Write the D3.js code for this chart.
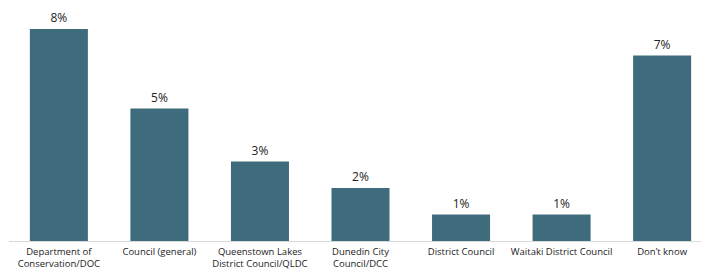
<!doctype html>
<html>
  <head>
    <meta charset="UTF-8">
    <title>Council mentions</title>
    <style>
      body { margin: 0; background: #fff; }
      .bar { fill: #3e6c7c; }
      .value { font-family: "Open Sans", sans-serif; font-size: 12px; fill: #222; }
      .cat { font-family: "Open Sans", sans-serif; font-size: 9.5px; fill: #222; }
    </style>
  </head>
  <body>
    <svg id="chart" width="701" height="270"></svg>
    <script src="https://d3js.org/d3.v7.min.js"></script>
    <script>
      // Chart data
      const categories = [
        "Department of Conservation/DOC",
        "Council (general)",
        "Queenstown Lakes District Council/QLDC",
        "Dunedin City Council/DCC",
        "District Council",
        "Waitaki District Council",
        "Don't know"
      ];
      const labelLines = [
        ["Department of", "Conservation/DOC"],
        ["Council (general)"],
        ["Queenstown Lakes", "District Council/QLDC"],
        ["Dunedin City", "Council/DCC"],
        ["District Council"],
        ["Waitaki District Council"],
        ["Don\u2019t know"]
      ];
      const values = [8, 5, 3, 2, 1, 1, 7];

      const svg = d3.select("#chart");
      const baseline = 241;

      const x = d3.scaleBand()
        .domain(categories)
        .range([8.75, 712.25])
        .paddingInner(0.423)
        .paddingOuter(0.21);

      const y = d3.scaleLinear()
        .domain([0, 8])
        .range([baseline, 29]);

      // baseline axis
      svg.append("line")
        .attr("x1", 9).attr("x2", 701)
        .attr("y1", baseline + 0.5).attr("y2", baseline + 0.5)
        .attr("stroke", "#d9d9d9").attr("stroke-width", 1);

      svg.selectAll("rect.bar")
        .data(values)
        .enter().append("rect")
          .attr("class", "bar")
          .attr("x", (d, i) => x(categories[i]))
          .attr("width", x.bandwidth())
          .attr("y", d => y(d))
          .attr("height", d => baseline - y(d));

      svg.selectAll("text.value")
        .data(values)
        .enter().append("text")
          .attr("class", "value")
          .attr("text-anchor", "middle")
          .attr("x", (d, i) => x(categories[i]) + x.bandwidth() / 2)
          .attr("y", d => y(d) - 7)
          .text(d => d + "%");

      const cats = svg.selectAll("text.cat")
        .data(labelLines)
        .enter().append("text")
          .attr("class", "cat")
          .attr("text-anchor", "middle")
          .attr("x", (d, i) => x(categories[i]) + x.bandwidth() / 2)
          .attr("y", 255);

      cats.selectAll("tspan")
        .data((d, i) => d.map(t => ({ t, cx: x(categories[i]) + x.bandwidth() / 2 })))
        .enter().append("tspan")
          .attr("x", d => d.cx)
          .attr("dy", (d, j) => j === 0 ? 0 : 12)
          .text(d => d.t);
    </script>
  </body>
</html>
